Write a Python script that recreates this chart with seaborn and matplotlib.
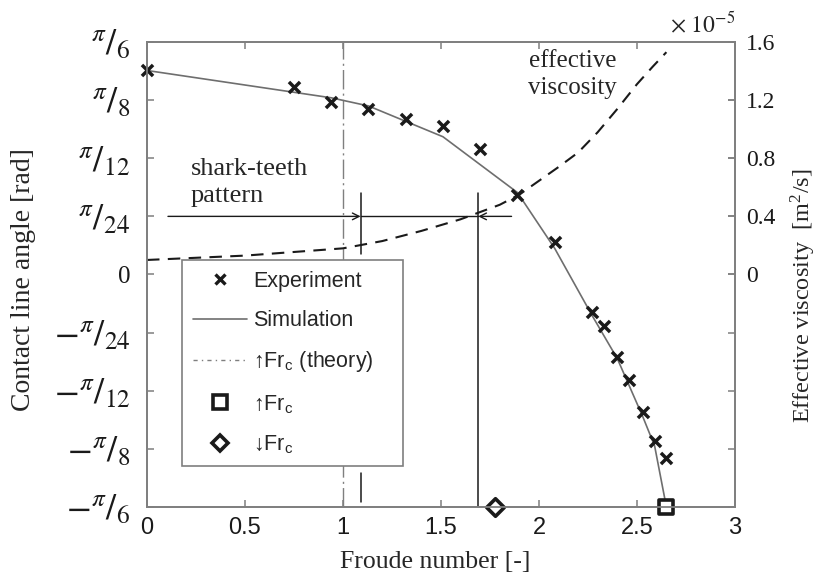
import numpy as np
import pandas as pd
import matplotlib
matplotlib.use("Agg")
import matplotlib.pyplot as plt
import seaborn as sns
from matplotlib.lines import Line2D

# ---------------- data (angles in units of pi/24 rad, viscosity in 1e-5 m^2/s)
exp_fr = [0.00, 0.75, 0.94, 1.13, 1.32, 1.51, 1.70, 1.89, 2.08, 2.27, 2.33, 2.40, 2.46, 2.53, 2.59, 2.65]
exp_angle_pi24 = [3.51, 3.23, 2.97, 2.84, 2.68, 2.56, 2.16, 1.37, 0.56, -0.65, -0.89, -1.42, -1.82, -2.37, -2.87, -3.15]

sim_fr = [0.00, 0.94, 1.13, 1.51, 1.89, 2.08, 2.27, 2.40, 2.53, 2.59, 2.65]
sim_angle_pi24 = [3.51, 3.04, 2.90, 2.37, 1.41, 0.45, -0.70, -1.45, -2.45, -2.95, -4.00]

visc_fr = [0.0, 0.5, 0.8, 1.0, 1.2, 1.4, 1.6, 1.8, 1.9, 2.1, 2.2, 2.3, 2.4, 2.5, 2.58, 2.65]
visc_e5 = [0.10, 0.13, 0.16, 0.18, 0.23, 0.30, 0.38, 0.48, 0.55, 0.74, 0.84, 0.98, 1.14, 1.31, 1.43, 1.53]

frc_theory = 1.0
frc_up = [2.65]
frc_up_angle_pi24 = [-4.0]
frc_down = [1.775]
frc_down_angle_pi24 = [-4.0]

shark_fr = [1.09, 1.69]          # limits of shark-teeth pattern
arrow_level_pi24 = 1.0
arrow_tail_fr = [0.107, 1.86]
short_mark_top_pi24 = [0.353, 1.405]
short_mark_bot_pi24 = [-3.92, -3.42]
long_mark_pi24 = [-4.0, 1.405]

left_tick_labels = [r"$-{}^{\pi}/_{6}$", r"$-{}^{\pi}/_{8}$", r"$-{}^{\pi}/_{12}$", r"$-{}^{\pi}/_{24}$",
                    "0", r"${}^{\pi}/_{24}$", r"${}^{\pi}/_{12}$", r"${}^{\pi}/_{8}$", r"${}^{\pi}/_{6}$"]
right_ticks = [0, 0.4, 0.8, 1.2, 1.6]
right_tick_labels = ["0", "0.4", "0.8", "1.2", "1.6"]
x_ticks = [0, 0.5, 1, 1.5, 2, 2.5, 3]
x_tick_labels = ["0", "0.5", "1", "1.5", "2", "2.5", "3"]

# ---------------- style
sns.set_theme(style="ticks")
plt.rcParams["font.family"] = ["Liberation Serif", "DejaVu Serif"]
plt.rcParams["mathtext.fontset"] = "stix"
SANS = ["Liberation Sans", "DejaVu Sans"]
GREY = "#7f7f7f"
u = np.pi / 24

fig = plt.figure(figsize=(8.23, 5.81), dpi=100)
ax = fig.add_axes([0.17861, 0.12737, 0.71446, 0.80034])
ax2 = ax.twinx()

exp_df = pd.DataFrame({"fr": exp_fr, "angle": np.array(exp_angle_pi24) * u})
sim_df = pd.DataFrame({"fr": sim_fr, "angle": np.array(sim_angle_pi24) * u})
visc_df = pd.DataFrame({"fr": visc_fr, "visc": visc_e5})

# theory line
ax.axvline(frc_theory, color=GREY, lw=1.0, ls=(0, (14, 3, 1.5, 3)), zorder=1)

sns.lineplot(data=sim_df, x="fr", y="angle", ax=ax, color="#6e6e6e", lw=1.2, sort=False, zorder=3)
sns.scatterplot(data=exp_df, x="fr", y="angle", ax=ax, marker="x", color="k", s=64,
                linewidth=2.5, zorder=5, clip_on=False)
sns.scatterplot(x=frc_up, y=np.array(frc_up_angle_pi24) * u, ax=ax, marker="s", s=110,
                facecolor="white", edgecolor="k", linewidth=2.6, zorder=6, clip_on=False)
sns.scatterplot(x=frc_down, y=np.array(frc_down_angle_pi24) * u, ax=ax, marker="D", s=80,
                facecolor="white", edgecolor="k", linewidth=2.6, zorder=6, clip_on=False)

# shark-teeth markers
ya = arrow_level_pi24 * u
ax.plot([shark_fr[0]] * 2, np.array(short_mark_top_pi24) * u, color="k", lw=1.1)
ax.plot([shark_fr[0]] * 2, np.array(short_mark_bot_pi24) * u, color="k", lw=1.1)
ax.plot([shark_fr[1]] * 2, np.array(long_mark_pi24) * u, color="k", lw=1.1)
ax.plot(shark_fr, [ya, ya], color="k", lw=1.0)
ax.annotate("", xy=(shark_fr[0], ya), xytext=(arrow_tail_fr[0], ya),
            arrowprops=dict(arrowstyle="->", color="k", lw=1.0, shrinkA=0, shrinkB=0, mutation_scale=12))
ax.annotate("", xy=(shark_fr[1], ya), xytext=(arrow_tail_fr[1], ya),
            arrowprops=dict(arrowstyle="->", color="k", lw=1.0, shrinkA=0, shrinkB=0, mutation_scale=12))
ax.text(0.224, 1.58 * u, "shark-teeth\npattern", ha="left", va="center", fontsize=19, linespacing=1.3)

# viscosity on right axis
sns.lineplot(data=visc_df, x="fr", y="visc", ax=ax2, color="k", lw=1.5, sort=False,
             linestyle=(0, (6, 4)))
ax2.text(2.17, 1.378, "effective\nviscosity", ha="center", va="center", fontsize=18, linespacing=1.3)

# axes limits / ticks
ax.set_xlim(0, 3)
ax.set_ylim(-4 * u, 4 * u)
ax2.set_ylim(-1.6, 1.6)
ax.set_xticks(x_ticks)
ax.set_xticklabels(x_tick_labels, fontfamily=SANS, fontsize=17)
ax.set_yticks(np.arange(-4, 5) * u)
ax.set_yticklabels(left_tick_labels, fontsize=26)
for lab in ax.get_yticklabels():
    if lab.get_text() == "0":
        lab.set_fontsize(18)
ax2.set_yticks(right_ticks)
ax2.set_yticklabels(right_tick_labels, fontsize=17)

ax.xaxis.set_ticks_position("both")
ax.yaxis.set_ticks_position("both")
for a in (ax, ax2):
    for s in a.spines.values():
        s.set_color(GREY)
        s.set_linewidth(1.3)
ax.tick_params(axis="both", which="both", direction="in", length=5, width=1.1, color=GREY,
               top=True, right=True, labelcolor="k", labelright=False, labeltop=False)
ax.tick_params(axis="x", pad=7)
ax.tick_params(axis="y", pad=12)
ax2.tick_params(axis="y", direction="in", length=5, width=1.1, color=GREY, pad=8, labelcolor="k")

ax.set_xlabel("Froude number [-]", fontsize=18.5)
ax.set_ylabel("Contact line angle [rad]", fontsize=20)
ax2.set_ylabel(r"Effective viscosity  [m$^{\mathregular{2}}$/s]", fontsize=17.5)
ax.xaxis.set_label_coords(0.49, -0.095)
ax.yaxis.set_label_coords(-0.188, 0.49)
ax2.yaxis.set_label_coords(1.092, 0.454)

ax2.text(1.0, 1.0 + 10 / 465, r"$\times\ 10^{-5}$", transform=ax2.transAxes, ha="right",
         va="baseline", fontsize=17)

# legend
handles = [
    Line2D([], [], ls="none", marker="x", color="k", markersize=7.5, markeredgewidth=2.4),
    Line2D([], [], color="#6e6e6e", lw=1.2),
    Line2D([], [], color=GREY, lw=1.0, ls=(0, (3, 3, 1, 3))),
    Line2D([], [], ls="none", marker="s", mfc="white", mec="k", markersize=9.5, mew=2.6),
    Line2D([], [], ls="none", marker="D", mfc="white", mec="k", markersize=8.5, mew=2.6),
]
labels = ["Experiment", "Simulation", r"↑Fr$_{\mathregular{c}}$ (theory)",
          r"↑Fr$_{\mathregular{c}}$", r"↓Fr$_{\mathregular{c}}$"]
leg = ax2.legend(handles, labels, loc="upper left", bbox_to_anchor=(0.0595, 0.0903, 0.3759, 0.4407),
                 mode="expand", borderaxespad=0, prop={"family": SANS, "size": 15.5}, frameon=True,
                 fancybox=False, framealpha=1, edgecolor=GREY, borderpad=0.5,
                 handlelength=2.5, handletextpad=0.3, labelspacing=0.85)
leg.get_frame().set_linewidth(1.2)
leg.set_zorder(10)

fig.savefig("out.png", dpi=100)
